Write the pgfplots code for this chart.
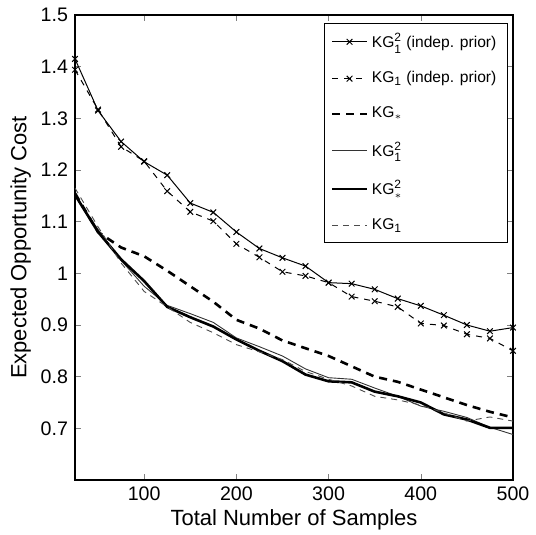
\documentclass[border=0pt]{standalone}
\usepackage{pgfplots}
\pgfplotsset{compat=1.18}
\usepackage{fontspec}
\setmainfont{Liberation Sans}
\begin{document}
\begin{tikzpicture}[x=1pt,y=1pt]
\begin{axis}[
  at={(0,0)}, anchor=south west,
  scale only axis, width=219pt, height=232.5pt,
  xmin=25, xmax=500, ymin=0.6, ymax=1.5,
  xtick={100,200,300,400,500},
  ytick={0.7,0.8,0.9,1,1.1,1.2,1.3,1.4,1.5},
  tick align=inside, tick pos=both,
  major tick length=3pt,
  /pgf/number format/assume math mode=true,
  ticklabel style={font=\fontsize{9.8}{11}\selectfont},
  label style={font=\fontsize{11}{12}\selectfont},
  xlabel={Total Number of Samples},
  ylabel={Expected Opportunity Cost},
  xlabel style={yshift=2.5pt},
  ylabel style={yshift=-2pt},
  axis line style={line width=0.6pt},
  legend cell align=left,
  legend style={at={(0.988,0.983)}, anchor=north east,
     font=\fontsize{7.8}{9}\selectfont, row sep=6.6pt,
     inner xsep=3.5pt, inner ysep=3pt, draw=black, line width=0.4pt},
]
\addplot[black, line width=0.5pt, mark=x, mark size=2pt] coordinates {
(25,1.415)(50,1.315)(75,1.255)(100,1.216)(125,1.190)(150,1.136)(175,1.118)(200,1.080)(225,1.048)(250,1.030)(275,1.014)(300,0.982)(325,0.980)(350,0.969)(375,0.951)(400,0.937)(425,0.919)(450,0.900)(475,0.888)(500,0.895)};
\addlegendentry{KG$^{\mbox{\fontsize{6}{6}\selectfont 2}}_{\mbox{\fontsize{6}{6}\selectfont 1}}$ (indep. prior)}
\addplot[black, line width=0.5pt, dashed, mark=x, mark size=2pt, mark options={solid}] coordinates {
(25,1.394)(50,1.317)(75,1.245)(100,1.217)(125,1.159)(150,1.119)(175,1.101)(200,1.057)(225,1.031)(250,1.003)(275,0.995)(300,0.982)(325,0.955)(350,0.946)(375,0.935)(400,0.903)(425,0.899)(450,0.882)(475,0.874)(500,0.850)};
\addlegendentry{KG$_{\mbox{\fontsize{6}{6}\selectfont 1}}$ (indep. prior)}
\addplot[black, line width=1.3pt, dash pattern=on 4pt off 3pt] coordinates {
(25,1.155)(50,1.080)(75,1.050)(100,1.033)(125,1.005)(150,0.975)(175,0.945)(200,0.910)(225,0.893)(250,0.870)(275,0.855)(300,0.840)(325,0.820)(350,0.800)(375,0.790)(400,0.775)(425,0.760)(450,0.745)(475,0.732)(500,0.721)};
\addlegendentry{KG$_{*}$}
\addplot[black!80, line width=0.45pt] coordinates {
(25,1.150)(50,1.085)(75,1.025)(100,0.975)(125,0.938)(150,0.922)(175,0.905)(200,0.875)(225,0.858)(250,0.840)(275,0.815)(300,0.798)(325,0.795)(350,0.778)(375,0.762)(400,0.743)(425,0.733)(450,0.721)(475,0.702)(500,0.688)};
\addlegendentry{KG$^{\mbox{\fontsize{6}{6}\selectfont 2}}_{\mbox{\fontsize{6}{6}\selectfont 1}}$}
\addplot[black, line width=1.3pt] coordinates {
(25,1.152)(50,1.080)(75,1.027)(100,0.985)(125,0.935)(150,0.915)(175,0.897)(200,0.872)(225,0.850)(250,0.830)(275,0.804)(300,0.791)(325,0.789)(350,0.771)(375,0.762)(400,0.750)(425,0.727)(450,0.717)(475,0.701)(500,0.701)};
\addlegendentry{KG$^{\mbox{\fontsize{6}{6}\selectfont 2}}_{*}$}
\addplot[black!70, line width=0.45pt, dash pattern=on 3pt off 2.5pt] coordinates {
(25,1.165)(50,1.090)(75,1.020)(100,0.965)(125,0.935)(150,0.905)(175,0.885)(200,0.862)(225,0.848)(250,0.833)(275,0.810)(300,0.795)(325,0.782)(350,0.762)(375,0.755)(400,0.745)(425,0.730)(450,0.714)(475,0.722)(500,0.714)};
\addlegendentry{KG$_{\mbox{\fontsize{6}{6}\selectfont 1}}$}
\end{axis}
\pgfresetboundingbox
\path (-37.5pt,-27.5pt) rectangle (230.5pt,240pt);
\end{tikzpicture}
\end{document}
